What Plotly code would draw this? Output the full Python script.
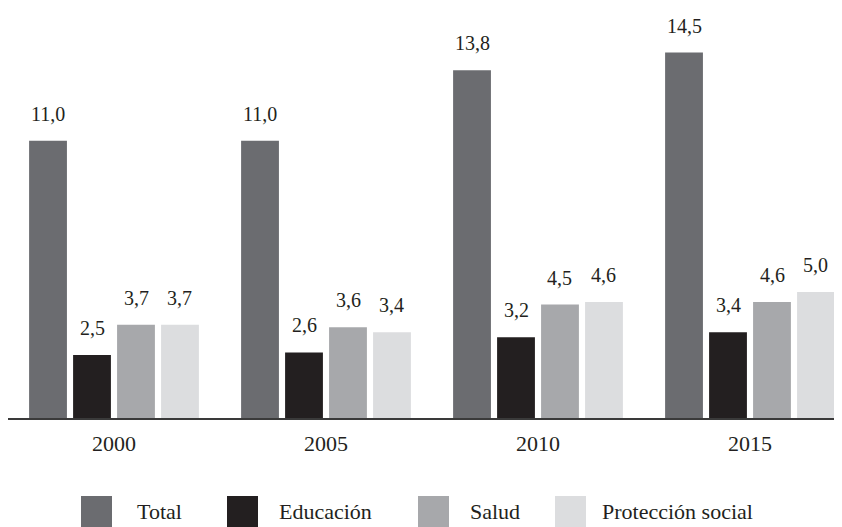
import plotly.graph_objects as go

years = ["2000", "2005", "2010", "2015"]
series_names = ["Total", "Educación", "Salud", "Protección social"]
total = [11.0, 11.0, 13.8, 14.5]
educacion = [2.5, 2.6, 3.2, 3.4]
salud = [3.7, 3.6, 4.5, 4.6]
proteccion = [3.7, 3.4, 4.6, 5.0]
colors = ["#6b6c70", "#231f20", "#a7a8ab", "#dcdddf"]

series_values = [total, educacion, salud, proteccion]

FONT = "Liberation Serif"
W, H = 842, 527
ML, MR, MT, MB = 0, 0, 0, 117
PW = W - ML - MR
PH = H - MT - MB

BARGAP = 0.17
BARGROUPGAP = 0.14

fig = go.Figure()
xs = list(range(len(years)))
for name, vals, col in zip(series_names, series_values, colors):
    fig.add_trace(go.Bar(x=xs, y=vals, name=name, marker=dict(color=col, line=dict(width=0)),
                         showlegend=False, hoverinfo="skip"))

# value labels above bars
slot = (1 - BARGAP) / len(series_names)
annotations = []
for j, vals in enumerate(series_values):
    off = (j - (len(series_names) - 1) / 2) * slot
    for i, v in enumerate(vals):
        annotations.append(dict(x=i + off, y=v, xref="x", yref="y",
                                text=f"{v:.1f}".replace(".", ","), showarrow=False,
                                yanchor="middle", yshift=27,
                                font=dict(family=FONT, size=20, color="#231f20")))

# manual legend (large swatches as in the reference)
def px_x(p):
    return (p - ML) / PW

def px_y(p):
    return (MT + PH - p) / PH

sw_left = [73, 219, 410, 547]
txt_left = [127, 269, 460, 592]
shapes = []
for k, name in enumerate(series_names):
    shapes.append(dict(type="rect", xref="paper", yref="paper",
                       x0=px_x(sw_left[k]), x1=px_x(sw_left[k] + 31),
                       y0=px_y(488), y1=px_y(527),
                       fillcolor=colors[k], line=dict(width=0)))
    annotations.append(dict(x=px_x(txt_left[k]), y=px_y(503), xref="paper", yref="paper",
                            text=name, showarrow=False, xanchor="left", yanchor="middle",
                            font=dict(family=FONT, size=22, color="#231f20")))

fig.update_layout(
    width=W, height=H,
    margin=dict(l=ML, r=MR, t=MT, b=MB, pad=0),
    paper_bgcolor="white", plot_bgcolor="white",
    barmode="group", bargap=BARGAP, bargroupgap=BARGROUPGAP,
    showlegend=False,
    annotations=annotations, shapes=shapes,
    xaxis=dict(tickmode="array", tickvals=xs, ticktext=years,
               range=[-0.5, -0.5 + PW / 212.0],
               showgrid=False, zeroline=False, showline=True,
               linecolor="#3a3a3a", linewidth=1.5, ticks="",
               ticklabelstandoff=5,
               tickfont=dict(family=FONT, size=22, color="#231f20")),
    yaxis=dict(range=[0, PH / 25.2], visible=False, showgrid=False, zeroline=False),
)

fig.write_html("out.html")
